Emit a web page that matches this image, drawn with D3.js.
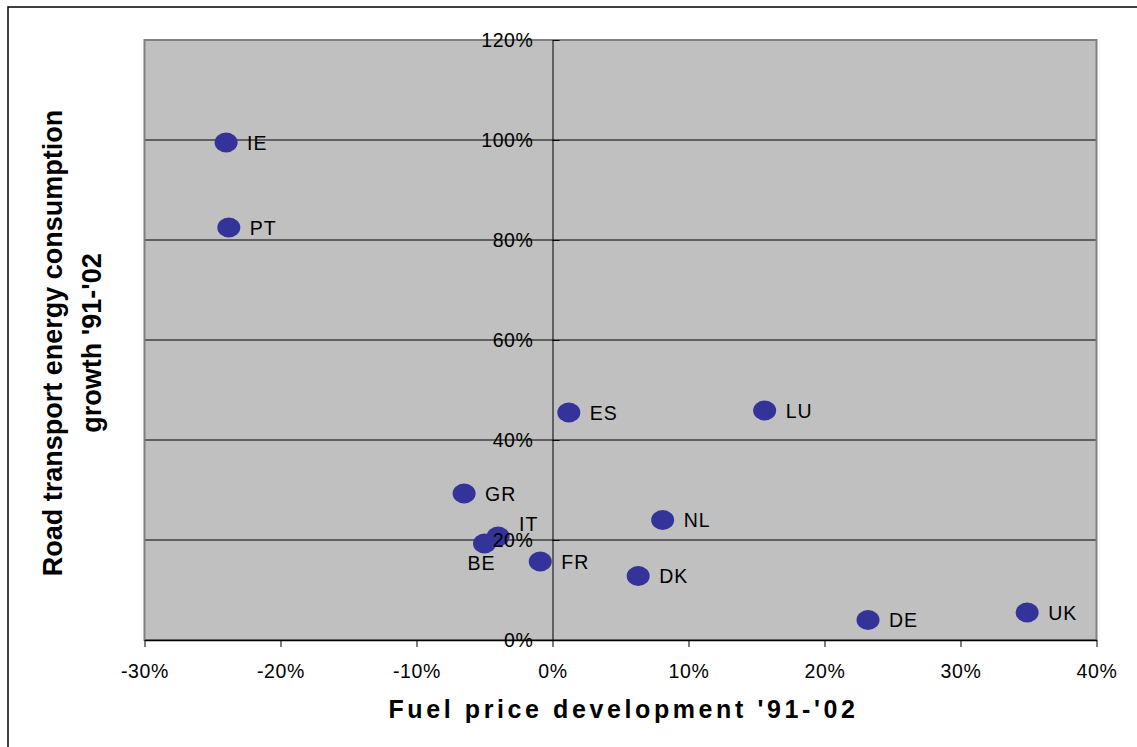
<!DOCTYPE html>
<html>
<head>
<meta charset="utf-8">
<script src="https://cdn.jsdelivr.net/npm/d3@7"></script>
<style>
  body { margin: 0; background: #fff; }
  text { font-family: Arial, "Liberation Sans", sans-serif; }
</style>
</head>
<body>
<div id="chart"></div>
<script>
const [WIDTH, HEIGHT] = [1137, 747]
const PLOT = { left: 144.5, right: 1096.5, top: 40, bottom: 640 }

const countries = ['IE', 'PT', 'ES', 'LU', 'GR', 'IT', 'BE', 'FR', 'NL', 'DK', 'DE', 'UK']
const fuelPrice = [-24.0, -23.8, 1.2, 15.6, -6.5, -4.0, -5.0, -0.9, 8.1, 6.3, 23.2, 34.9]
const energyGrowth = [99.5, 82.5, 45.5, 45.9, 29.3, 20.7, 19.3, 15.7, 24.0, 12.8, 4.0, 5.5]
const xTicks = [-30, -20, -10, 0, 10, 20, 30, 40]
const yTicks = [0, 20, 40, 60, 80, 100, 120]

const data = countries.map((c, i) => ({ c, x: fuelPrice[i], y: energyGrowth[i] }))

const svg = d3.select('#chart').append('svg')
    .attr('width', WIDTH)
    .attr('height', HEIGHT)

// outer frame, only top and left edges show
svg.append('rect')
    .attr('x', 8).attr('y', 7)
    .attr('width', WIDTH + 20).attr('height', HEIGHT + 20)
    .attr('fill', 'none')
    .attr('stroke', '#000')
    .attr('stroke-width', 1.5)

const xScale = d3.scaleLinear([-30, 40], [PLOT.left, PLOT.right])
const yScale = d3.scaleLinear([0, 120], [PLOT.bottom, PLOT.top])

svg.append('rect')
    .attr('x', PLOT.left).attr('y', PLOT.top)
    .attr('width', PLOT.right - PLOT.left)
    .attr('height', PLOT.bottom - PLOT.top)
    .attr('fill', '#c0c0c0')

// gridlines
svg.append('g').selectAll('line')
    .data(yTicks.filter(t => t > 0 && t < 120))
    .join('line')
    .attr('x1', PLOT.left).attr('x2', PLOT.right)
    .attr('y1', d => yScale(d)).attr('y2', d => yScale(d))
    .attr('stroke', '#000')
    .attr('stroke-width', 1)

// plot border
svg.append('rect')
    .attr('x', PLOT.left).attr('y', PLOT.top)
    .attr('width', PLOT.right - PLOT.left)
    .attr('height', PLOT.bottom - PLOT.top)
    .attr('fill', 'none')
    .attr('stroke', '#808080')
    .attr('stroke-width', 2)

// markers
svg.append('g').selectAll('ellipse')
    .data(data)
    .join('ellipse')
    .attr('cx', d => xScale(d.x))
    .attr('cy', d => yScale(d.y))
    .attr('rx', 11.5)
    .attr('ry', 10)
    .attr('fill', '#333399')

const fmt = d => d + '%'

const xAxis = svg.append('g')
    .attr('transform', `translate(0,${PLOT.bottom})`)
    .call(d3.axisBottom(xScale).tickValues(xTicks).tickFormat(fmt).tickSize(7).tickPadding(17).tickSizeOuter(0))
xAxis.select('.domain').attr('stroke', '#000').attr('stroke-width', 1.5)

const yAxis = svg.append('g')
    .attr('transform', `translate(${xScale(0)},0)`)
    .call(d3.axisLeft(yScale).tickValues(yTicks).tickFormat(fmt).tickSize(-7).tickPadding(19).tickSizeOuter(0))

svg.selectAll('.tick text')
    .attr('font-size', 19.5)
    .attr('font-family', 'Arial, "Liberation Sans", sans-serif')
    .attr('letter-spacing', 0.6)
    .attr('fill', '#000')

// labels: IT sits above, BE below, the rest to the right
const labelPos = d => {
    if (d.c === 'IT') return { dx: 21, dy: -13, anchor: 'start' }
    if (d.c === 'BE') return { dx: -3, dy: 19, anchor: 'middle' }
    return { dx: 21, dy: 0, anchor: 'start' }
}

svg.append('g').selectAll('text')
    .data(data)
    .join('text')
    .attr('x', d => xScale(d.x) + labelPos(d).dx)
    .attr('y', d => yScale(d.y) + labelPos(d).dy)
    .attr('dy', '0.36em')
    .attr('text-anchor', d => labelPos(d).anchor)
    .attr('font-size', 19.5)
    .attr('letter-spacing', 1)
    .text(d => d.c)

// axis titles
svg.append('text')
    .attr('x', (PLOT.left + PLOT.right) / 2 + 3)
    .attr('y', 718)
    .attr('text-anchor', 'middle')
    .attr('font-size', 25)
    .attr('font-weight', 'bold')
    .attr('letter-spacing', 3.6)
    .text("Fuel price development '91-'02")

const yTitle = svg.append('text')
    .attr('transform', `translate(0,343) rotate(-90)`)
    .attr('text-anchor', 'middle')
    .attr('font-size', 27)
    .attr('font-weight', 'bold')
yTitle.append('tspan').attr('x', 0).attr('y', 62).text('Road transport energy consumption')
yTitle.append('tspan').attr('x', 0).attr('y', 101).text("growth '91-'02")
</script>
</body>
</html>
